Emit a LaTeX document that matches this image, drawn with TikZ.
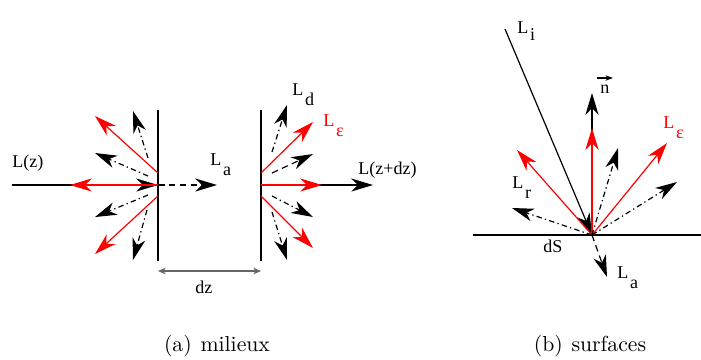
\documentclass[tikz,border=0pt]{standalone}
\usepackage{fontspec}
\newfontfamily\figfont{Liberation Serif}
\usetikzlibrary{arrows.meta}

\begin{document}
\begin{tikzpicture}[
    x=0.46pt, y=-0.46pt,
    ray/.style={-{Stealth[length=10pt,width=6pt,inset=3pt]}, line width=0.55pt},
    redray/.style={ray, red},
    diffus/.style={ray, dash pattern=on 2.5pt off 1.5pt on 0.6pt off 1.5pt},
    absorb/.style={ray, dash pattern=on 3pt off 2pt},
    wall/.style={line width=0.6pt},
    dim/.style={{Stealth[length=3.5pt,width=3pt,inset=1pt]}-{Stealth[length=3.5pt,width=3pt,inset=1pt]}, line width=0.5pt, black!60},
    lbl/.style={font=\figfont\fontsize{8.3}{10}\selectfont, anchor=base west, inner sep=0pt},
    capt/.style={anchor=base, inner sep=0pt}
]
    \useasboundingbox (0,0) rectangle (701,359);

    % (a) milieux
    \coordinate (lwt) at (158,110);
    \coordinate (lwb) at (158,261);
    \coordinate (rwt) at (261,110);
    \coordinate (rwb) at (261,261);
    \draw[wall] (lwt) -- (lwb);
    \draw[wall] (rwt) -- (rwb);

    \coordinate (lz) at (12,185);
    \coordinate (lc) at (158,185);
    \coordinate (rc) at (261,185);
    \coordinate (lback) at (70,185);
    \coordinate (latip) at (217,185);
    \coordinate (lzdz) at (373,185);
    \coordinate (reps) at (322,185);
    \draw[ray] (lz) -- (lc);
    \draw[redray] (lc) -- (lback);
    \draw[absorb] (lc) -- (latip);
    \draw[ray] (rc) -- (lzdz);
    \draw[redray] (rc) -- (reps);

    \coordinate (lru0) at (158,173);  \coordinate (lru) at (95,116);
    \coordinate (lrd0) at (158,196);  \coordinate (lrd) at (95,254);
    \draw[redray] (lru0) -- (lru);
    \draw[redray] (lrd0) -- (lrd);
    \coordinate (ld10) at (148,158);  \coordinate (ld1) at (133,111);
    \coordinate (ld20) at (148,176);  \coordinate (ld2) at (95,153);
    \coordinate (ld30) at (148,195);  \coordinate (ld3) at (95,217);
    \coordinate (ld40) at (147,210);  \coordinate (ld4) at (133,260);
    \draw[diffus] (ld10) -- (ld1);
    \draw[diffus] (ld20) -- (ld2);
    \draw[diffus] (ld30) -- (ld3);
    \draw[diffus] (ld40) -- (ld4);

    \coordinate (rru0) at (261,173);  \coordinate (rru) at (313,122);
    \coordinate (rrd0) at (261,196);  \coordinate (rrd) at (313,248);
    \draw[redray] (rru0) -- (rru);
    \draw[redray] (rrd0) -- (rrd);
    \coordinate (rd10) at (272,152);  \coordinate (rd1) at (287,105);
    \coordinate (rd20) at (272,173);  \coordinate (rd2) at (313,154);
    \coordinate (rd30) at (272,196);  \coordinate (rd3) at (313,217);
    \coordinate (rd40) at (272,212);  \coordinate (rd4) at (287,260);
    \draw[diffus] (rd10) -- (rd1);
    \draw[absorb] (rd20) -- (rd2);
    \draw[diffus] (rd30) -- (rd3);
    \draw[diffus] (rd40) -- (rd4);

    \coordinate (dzl) at (158,271);
    \coordinate (dzr) at (261,271);
    \draw[dim] (dzl) -- (dzr);

    \node[lbl] (Lz) at (12,167) {L(z)};
    \node[lbl] (La1) at (210,165) {L\kern0.8pt\raisebox{-4.6pt}{a}};
    \node[lbl] (Ld) at (292,95) {L\kern0.8pt\raisebox{-4.6pt}{d}};
    \node[lbl, red] (Le1) at (323,126) {L\kern0.8pt\raisebox{-4.6pt}{ε}};
    \node[lbl] (Lzdz) at (358,174) {L(z+dz)};
    \node[lbl] (dz) at (195,293) {dz};

    % (b) surfaces
    \coordinate (sl) at (473,235);
    \coordinate (sr) at (701,235);
    \coordinate (dsl) at (543,235);
    \coordinate (dsr) at (635,235);
    \coordinate (O) at (592,235);
    \draw[wall] (sl) -- (sr);
    \draw[line width=1.1pt] (dsl) -- (dsr);

    \coordinate (Li0) at (505,29);
    \coordinate (nt) at (592,93);
    \coordinate (nr) at (592,128);
    \draw[ray] (Li0) -- (O);
    \draw[ray] (O) -- (nt);
    \draw[redray] (O) -- (nr);

    \coordinate (sr1) at (517,150);
    \coordinate (sr2) at (667,143);
    \draw[redray] (O) -- (sr1);
    \draw[redray] (O) -- (sr2);
    \coordinate (sd1) at (618,148);
    \coordinate (sd2) at (677,182);
    \coordinate (sd3) at (512,208);
    \coordinate (sa) at (607,277);
    \draw[diffus] (O) -- (sd1);
    \draw[diffus] (O) -- (sd2);
    \draw[diffus] (O) -- (sd3);
    \draw[absorb] (O) -- (sa);

    \coordinate (nv0) at (597,78);
    \coordinate (nv1) at (613,78);
    \draw[-{Stealth[length=3.5pt,width=2.5pt]}, line width=0.5pt] (nv0) -- (nv1);

    \node[lbl] (Li) at (517,33) {L\kern0.8pt\raisebox{-3.5pt}{i}};
    \node[lbl] (n) at (600,93) {n};
    \node[lbl, red] (Le2) at (663,128) {L\kern0.8pt\raisebox{-4.6pt}{ε}};
    \node[lbl] (Lr) at (512,188) {L\kern0.8pt\raisebox{-4.6pt}{r}};
    \node[lbl] (dS) at (543,252) {dS};
    \node[lbl] (La2) at (617,278) {L\kern0.8pt\raisebox{-4.6pt}{a}};

    \node[capt] (capa) at (217,351) {(a)\hspace{4pt}milieux};
    \node[capt] (capb) at (590,351) {(b)\hspace{4pt}surfaces};
\end{tikzpicture}
\end{document}
